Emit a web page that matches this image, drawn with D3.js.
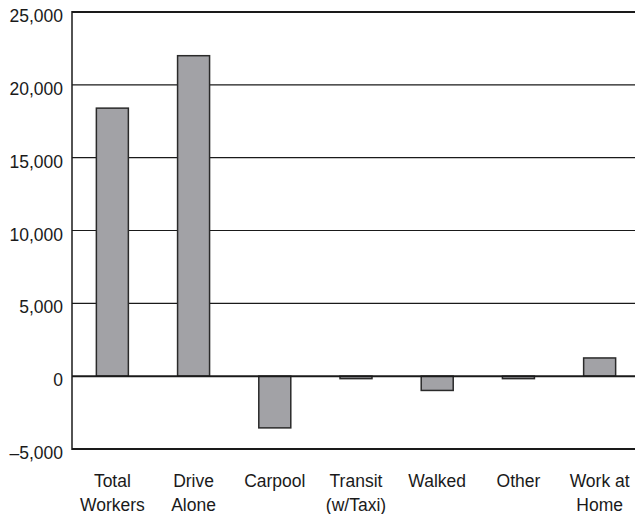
<!DOCTYPE html>
<html>
<head>
<meta charset="utf-8">
<script src="https://cdn.jsdelivr.net/npm/d3@7"></script>
<style>
  html, body { margin: 0; padding: 0; background: #fff; }
  svg { display: block; }
  text { font-family: "Liberation Sans", Arial, Helvetica, sans-serif; fill: #1a1a1a; }
</style>
</head>
<body>
<script>
const categories = ["Total Workers", "Drive Alone", "Carpool", "Transit (w/Taxi)", "Walked", "Other", "Work at Home"];
const categoryLines = [["Total", "Workers"], ["Drive", "Alone"], ["Carpool"], ["Transit", "(w/Taxi)"], ["Walked"], ["Other"], ["Work at", "Home"]];
const values = [18400, 22000, -3550, -170, -980, -170, 1250];
const yTicks = [-5000, 0, 5000, 10000, 15000, 20000, 25000];
const yTickLabels = ["\u20135,000", "0", "5,000", "10,000", "15,000", "20,000", "25,000"];

const W = 635, H = 514;
const mLeft = 72, mRight = 640, mTop = 12, mBottom = 449;

const svg = d3.select("body").append("svg").attr("width", W).attr("height", H);

const x = d3.scaleBand().domain(categories).range([mLeft, mRight]).paddingInner(0.606).paddingOuter(0.3);
const y = d3.scaleLinear().domain([-5000, 25000]).range([mBottom, mTop]);

// gridlines
const heavy = new Set([-5000, 0, 25000]);
svg.append("g").selectAll("line").data(yTicks.filter(t => t !== 0)).join("line")
  .attr("x1", mLeft).attr("x2", W)
  .attr("y1", d => y(d)).attr("y2", d => y(d))
  .attr("stroke", "#1a1a1a")
  .attr("stroke-width", d => heavy.has(d) ? 2 : 1.1);

// y axis labels
const yAxis = d3.axisLeft(y).tickValues(yTicks).tickSize(0).tickPadding(9)
  .tickFormat(d => yTickLabels[yTicks.indexOf(d)]);
const gy = svg.append("g").attr("transform", `translate(${mLeft},0)`).call(yAxis);
gy.select(".domain").remove();
gy.selectAll("text").attr("font-size", 17.5).attr("dy", "0.55em")
  .style("font-family", '"Liberation Sans", Arial, sans-serif').attr("fill", "#1a1a1a");

// bars
svg.append("g").selectAll("rect").data(values).join("rect")
  .attr("x", (d, i) => x(categories[i]))
  .attr("width", x.bandwidth())
  .attr("y", d => y(Math.max(0, d)))
  .attr("height", d => Math.abs(y(d) - y(0)))
  .attr("fill", "#a2a2a6")
  .attr("stroke", "#2a2a2a")
  .attr("stroke-width", 1.5);

// zero line
svg.append("line").attr("x1", mLeft).attr("x2", W).attr("y1", y(0)).attr("y2", y(0))
  .attr("stroke", "#1a1a1a").attr("stroke-width", 2);

// left axis line
svg.append("line").attr("x1", mLeft).attr("x2", mLeft).attr("y1", y(25000) - 1).attr("y2", y(-5000) + 1)
  .attr("stroke", "#1a1a1a").attr("stroke-width", 1.5);

// category labels
const lab = svg.append("g").selectAll("text").data(categories).join("text")
  .attr("text-anchor", "middle")
  .attr("font-size", 17.5)
  .attr("transform", d => `translate(${x(d) + x.bandwidth() / 2},487)`);
lab.selectAll("tspan").data((d, i) => categoryLines[i]).join("tspan")
  .attr("x", 0).attr("y", (d, j) => j * 24).text(d => d);
</script>
</body>
</html>
